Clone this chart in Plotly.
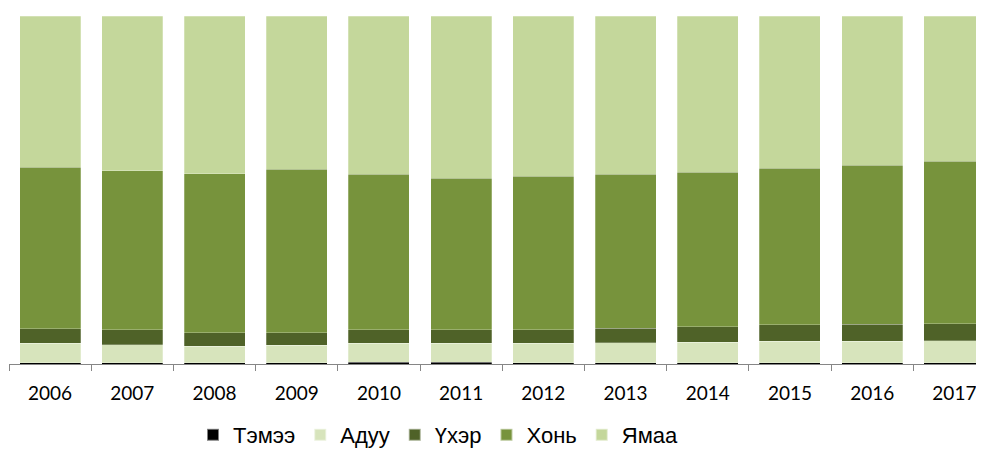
import plotly.graph_objects as go

years = ["2006", "2007", "2008", "2009", "2010", "2011", "2012", "2013", "2014", "2015", "2016", "2017"]
temee = [0.3, 0.3, 0.3, 0.3, 0.5, 0.5, 0.3, 0.3, 0.3, 0.3, 0.3, 0.3]
aduu = [5.7, 5.3, 4.85, 5.14, 5.5, 5.5, 5.7, 5.8, 6.0, 6.17, 6.17, 6.37]
ukher = [4.2, 4.2, 3.9, 3.52, 3.9, 3.9, 3.9, 4.21, 4.46, 4.87, 4.98, 4.95]
khoni = [46.4, 45.8, 45.6, 46.95, 44.57, 43.43, 44.08, 44.17, 44.29, 44.86, 45.61, 46.58]
yamaa = [43.4, 44.4, 45.35, 44.09, 45.53, 46.67, 46.02, 45.52, 44.95, 43.8, 42.94, 41.8]

series = [
    ("Тэмээ", temee, "#000000"),
    ("Адуу", aduu, "#D7E4BC"),
    ("Үхэр", ukher, "#4F6228"),
    ("Хонь", khoni, "#77933C"),
    ("Ямаа", yamaa, "#C4D79B"),
]

fig = go.Figure()
for name, vals, color in series:
    fig.add_trace(go.Bar(
        x=years, y=vals, name=name,
        marker=dict(color=color, line=dict(width=0.5, color="rgba(255,255,255,0.5)")),
    ))

fig.update_layout(
    width=976, height=448,
    barmode="stack", bargap=0.258,
    plot_bgcolor="white", paper_bgcolor="white",
    margin=dict(l=1, r=0, t=8, b=91, pad=0),
    showlegend=True,
    legend=dict(
        orientation="h", x=0.44, xanchor="center", y=-0.205, yanchor="middle",
        font=dict(family="Liberation Sans, Arial", size=22, color="#000000"),
        traceorder="normal", itemsizing="constant",
    ),
    xaxis=dict(
        type="category", range=[-0.5, 11.36],
        showline=True, linecolor="#868686", linewidth=1,
        ticks="outside", tickson="boundaries", ticklen=6, tickcolor="#868686",
        ticklabelstandoff=12,
        tickfont=dict(family="Lato", size=19, color="#000000"),
        showgrid=False, zeroline=False,
    ),
    yaxis=dict(range=[0, 100], visible=False, showgrid=False, zeroline=False),
)

fig.write_html("out.html")
